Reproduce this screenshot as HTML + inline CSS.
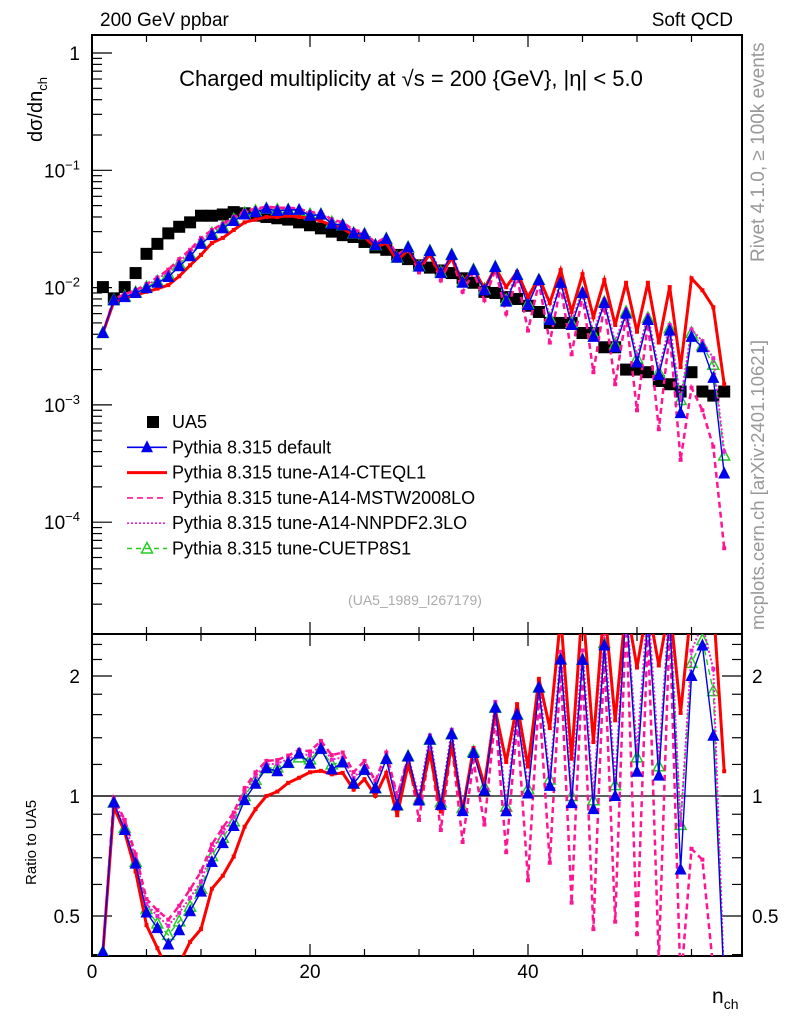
<!DOCTYPE html>
<html><head><meta charset="utf-8"><style>
html,body{margin:0;padding:0;background:#fff;overflow:hidden;width:786px;height:1024px;}
svg{display:block;font-family:"Liberation Sans",sans-serif;}
</style></head><body>
<svg id="chart" width="786" height="1024" viewBox="0 0 786 1024" xmlns="http://www.w3.org/2000/svg">
<text x="100" y="26" font-size="19">200 GeV ppbar</text>
<text x="733" y="26" font-size="19" text-anchor="end">Soft QCD</text>
<text x="411" y="86" font-size="22" text-anchor="middle">Charged multiplicity at √s = 200 {GeV}, |η| &lt; 5.0</text>
<text transform="translate(42,142) rotate(-90)" font-size="20">dσ/dn<tspan font-size="13" dy="5">ch</tspan></text>
<text transform="translate(36,885) rotate(-90)" font-size="15">Ratio to UA5</text>
<text x="712" y="1003" font-size="21">n<tspan font-size="14" dy="6">ch</tspan></text>
<text transform="translate(764,262) rotate(-90)" font-size="19" fill="#999">Rivet 4.1.0, ≥ 100k events</text>
<text transform="translate(764,630) rotate(-90)" font-size="18.5" fill="#999">mcplots.cern.ch [arXiv:2401.10621]</text>
<text x="415" y="605" font-size="14" fill="#aaa" text-anchor="middle">(UA5_1989_I267179)</text>
<g id="axes"></g>
<g id="marks"></g>
<g id="legend"></g>
</svg>
<script>
const nch = [1,2,3,4,5,6,7,8,9,10,11,12,13,14,15,16,17,18,19,20,21,22,23,24,25,26,27,28,29,30,31,32,33,34,35,36,37,38,39,40,41,42,43,44,45,46,47,48,49,50,51,52,53,54,55,56,57,58];
const ua5 = [0.0101,0.0081,0.0101,0.0133,0.0194,0.0236,0.029,0.033,0.036,0.041,0.041,0.042,0.044,0.043,0.041,0.040,0.039,0.038,0.036,0.034,0.032,0.030,0.028,0.027,0.0245,0.022,0.021,0.019,0.0175,0.0155,0.0148,0.014,0.0133,0.012,0.011,0.0092,0.009,0.0083,0.008,0.007,0.0062,0.005,0.005,0.005,0.0041,0.0041,0.0031,0.0031,0.002,0.002,0.0019,0.0016,0.0015,0.0013,0.0019,0.0013,0.0012,0.0013];
const pyDefault = [0.0041,0.0078,0.0083,0.009,0.0099,0.011,0.0123,0.0152,0.0185,0.0236,0.028,0.032,0.037,0.042,0.044,0.047,0.045,0.046,0.046,0.041,0.042,0.035,0.034,0.029,0.0285,0.023,0.026,0.018,0.022,0.0151,0.0205,0.0133,0.019,0.011,0.0141,0.0095,0.015,0.0076,0.0128,0.0071,0.0116,0.0053,0.011,0.0048,0.009,0.0038,0.0074,0.0031,0.006,0.0023,0.0053,0.0018,0.0043,0.00085,0.0038,0.0031,0.0017,0.00026];
const pyCTEQ = [0.0041,0.0076,0.0082,0.0086,0.0092,0.0098,0.0105,0.0125,0.0155,0.019,0.024,0.0265,0.031,0.036,0.038,0.040,0.040,0.041,0.040,0.039,0.037,0.034,0.032,0.028,0.027,0.022,0.024,0.017,0.021,0.015,0.019,0.0128,0.018,0.011,0.0145,0.0098,0.0148,0.0101,0.0136,0.0083,0.0122,0.0074,0.0141,0.0062,0.013,0.0056,0.0116,0.0048,0.011,0.0042,0.011,0.0034,0.0101,0.0021,0.012,0.0095,0.0068,0.0015];
const pyMSTW = [0.0041,0.008,0.0088,0.0095,0.0107,0.0122,0.0142,0.0175,0.021,0.0265,0.031,0.035,0.040,0.045,0.047,0.049,0.048,0.048,0.047,0.044,0.044,0.038,0.036,0.031,0.030,0.024,0.027,0.019,0.022,0.0135,0.0195,0.0115,0.018,0.0092,0.0135,0.0078,0.0142,0.006,0.0122,0.0043,0.011,0.0034,0.0104,0.0027,0.0086,0.0019,0.007,0.0015,0.0057,0.0009,0.005,0.00062,0.0041,0.00034,0.0014,0.0009,0.00044,0.00006];
const pyNNPDF = [0.0041,0.0079,0.0086,0.0093,0.0104,0.0118,0.0137,0.0168,0.020,0.025,0.030,0.034,0.039,0.044,0.046,0.048,0.047,0.047,0.046,0.043,0.043,0.037,0.035,0.030,0.029,0.024,0.026,0.019,0.022,0.0155,0.021,0.0135,0.0195,0.0112,0.0145,0.0098,0.0155,0.0079,0.0133,0.0074,0.012,0.0056,0.0115,0.0051,0.0095,0.0041,0.0079,0.0034,0.0065,0.0026,0.0058,0.002,0.0048,0.0011,0.0044,0.0035,0.0025,0.0004];
const pyCUETP = [0.0041,0.0078,0.0084,0.0091,0.0101,0.0113,0.013,0.016,0.019,0.024,0.029,0.033,0.038,0.043,0.045,0.047,0.046,0.046,0.045,0.042,0.042,0.036,0.034,0.029,0.0285,0.023,0.026,0.018,0.022,0.0152,0.0205,0.0135,0.019,0.0112,0.0142,0.0097,0.015,0.0078,0.0128,0.0073,0.0116,0.0055,0.011,0.005,0.009,0.004,0.0075,0.0033,0.0062,0.0025,0.0055,0.0019,0.0045,0.0011,0.0041,0.0032,0.0022,0.00037];
const xTicks = [0,20,40];
const yTickLabels = ["1","10","10","10","10"];
const yTickExp = ["","−1","−2","−3","−4"];
const ratioTicks = [0.5,1,2];

const NS="http://www.w3.org/2000/svg";
const L=92,R=742,T=35,PB=634,RB=956;
const X=v=>L+v*10.9;
const Y=v=>53-Math.log10(v)*117.3;
const RY=v=>Math.max(PB-30,Math.min(RB+30,796-Math.log2(v)*120));
function mk(tag,attrs,parent){const e=document.createElementNS(NS,tag);for(const k in attrs)e.setAttribute(k,attrs[k]);parent.appendChild(e);return e;}
const ax=document.getElementById('axes'), mg=document.getElementById('marks'), lg=document.getElementById('legend');

let f1=mk('rect',{x:L,y:T,width:R-L,height:PB-T,fill:'none',stroke:'#000','stroke-width':2},ax);


let f2=mk('rect',{x:L,y:PB,width:R-L,height:RB-PB,fill:'none',stroke:'#000','stroke-width':2},ax);


for(let v=0;v<=58;v+=5){const big=v%20===0;const len=big?12:7;
 [[T,1],[PB,-1],[PB,1],[RB,-1]].forEach(([y0,d])=>{mk('line',{x1:X(v),x2:X(v),y1:y0,y2:y0+d*len,stroke:'#000','stroke-width':1.2},ax);});}
xTicks.forEach(v=>{const t=mk('text',{x:X(v),y:978,'font-size':19,'text-anchor':'middle'},ax);t.textContent=v;
 
 });
for(let e=0;e>=-5;e--){for(let m=1;m<10;m++){const v=m*Math.pow(10,e);const y=Y(v);if(y<T||y>PB)continue;const len=m===1?20:10;
 mk('line',{x1:L,x2:L+len,y1:y,y2:y,stroke:'#000','stroke-width':1.2},ax);}}
yTickLabels.forEach((s,i)=>{const t=mk('text',{x:80,y:Y(Math.pow(10,-i))+7,'font-size':19,'text-anchor':'end'},ax);
 
 
 t.textContent=s;if(yTickExp[i]){const sp=mk('tspan',{dy:-8,'font-size':13},t);sp.textContent=yTickExp[i];}});
[0.4,0.5,0.6,0.7,0.8,0.9,1,1.2,1.4,1.6,1.8,2,2.2,2.4].forEach(v=>{const y=RY(v);const big=ratioTicks.includes(v);const len=big?20:10;
 mk('line',{x1:L,x2:L+len,y1:y,y2:y,stroke:'#000','stroke-width':1.2},ax);mk('line',{x1:R,x2:R-len,y1:y,y2:y,stroke:'#000','stroke-width':1.2},ax);});
ratioTicks.forEach(v=>{[[80,'end'],[752,'start']].forEach(([x,a])=>{const t=mk('text',{x:x,y:RY(v)+7,'font-size':19,'text-anchor':a},ax);t.textContent=String(v);
 
 });});
mk('line',{x1:L,x2:R,y1:RY(1),y2:RY(1),stroke:'#000','stroke-width':1.2},ax);

const series=[
 {name:'pythia-cueetp8s1',d:pyCUETP,c:'#22cc22',dash:'6,4',w:1.4,m:'otri'},
 {name:'pythia-nnpdf',d:pyNNPDF,c:'#ee22cc',dash:'2,2',w:2,m:'dot'},
 {name:'pythia-mstw',d:pyMSTW,c:'#ff1493',dash:'6,4',w:2.5,m:'dot'},
 {name:'pythia-cteql1',d:pyCTEQ,c:'#ff0000',dash:'',w:3,m:'dot'},
 {name:'pythia-default',d:pyDefault,c:'#0000ee',dash:'',w:1.4,m:'tri'}
];
function marker(g,type,x,y,c){
 if(type==='tri'){mk('polygon',{points:`${x},${y-7} ${x-6},${y+5} ${x+6},${y+5}`,fill:c},g);}
 else if(type==='otri'){mk('polygon',{points:`${x},${y-6} ${x-5.5},${y+4.5} ${x+5.5},${y+4.5}`,fill:'none',stroke:c,'stroke-width':1.5},g);}
 else {mk('rect',{x:x-2,y:y-2,width:4,height:4,fill:c},g);}
}
const defs=mk('defs',{},mg);
const c1=mk('clipPath',{id:'clipTop'},defs);mk('rect',{x:L,y:T,width:R-L,height:PB-T},c1);
const c2=mk('clipPath',{id:'clipRatio'},defs);mk('rect',{x:L,y:PB,width:R-L,height:RB-PB},c2);
const gTop=mk('g',{'clip-path':'url(#clipTop)'},mg);
const gRat=mk('g',{'clip-path':'url(#clipRatio)'},mg);
const gU=mk('g',{},gTop);


nch.forEach((n,i)=>{mk('rect',{x:X(n)-6,y:Y(ua5[i])-6,width:12,height:12,fill:'#000'},gU);});
series.forEach(s=>{
 const g=mk('g',{},gTop);
 
 
 mk('polyline',{points:nch.map((n,i)=>X(n)+','+Y(s.d[i])).join(' '),fill:'none',stroke:s.c,'stroke-width':s.w,'stroke-dasharray':s.dash},g);
 nch.forEach((n,i)=>marker(g,s.m,X(n),Y(s.d[i]),s.c));
 const gr=mk('g',{},gRat);
 
 
 mk('polyline',{points:nch.map((n,i)=>X(n)+','+RY(s.d[i]/ua5[i])).join(' '),fill:'none',stroke:s.c,'stroke-width':s.w,'stroke-dasharray':s.dash},gr);
 nch.forEach((n,i)=>marker(gr,s.m,X(n),RY(s.d[i]/ua5[i]),s.c));
});
const leg=[
 ['UA5','sq','#000',''],
 ['Pythia 8.315 default','tri','#0000ee',''],
 ['Pythia 8.315 tune-A14-CTEQL1','line','#ff0000',''],
 ['Pythia 8.315 tune-A14-MSTW2008LO','line','#ff1493','6,4'],
 ['Pythia 8.315 tune-A14-NNPDF2.3LO','line','#ee22cc','2,2'],
 ['Pythia 8.315 tune-CUETP8S1','otri','#22cc22','5,4']
];
leg.forEach((e,i)=>{const y=422+i*25.3;const g=mk('g',{},lg);
 
 
 if(e[1]==='sq'){mk('rect',{x:147,y:y-6,width:12,height:12,fill:'#000'},g);}
 else{mk('line',{x1:127,x2:167,y1:y,y2:y,stroke:e[2],'stroke-width':e[1]==='line'&&i===2?3:1.6,'stroke-dasharray':e[3]},g);
  if(e[1]==='tri')marker(g,'tri',147,y,e[2]);if(e[1]==='otri')marker(g,'otri',147,y,e[2]);}
 const t=mk('text',{x:172,y:y+6,'font-size':18},g);t.textContent=e[0];});
</script>
</body></html>
